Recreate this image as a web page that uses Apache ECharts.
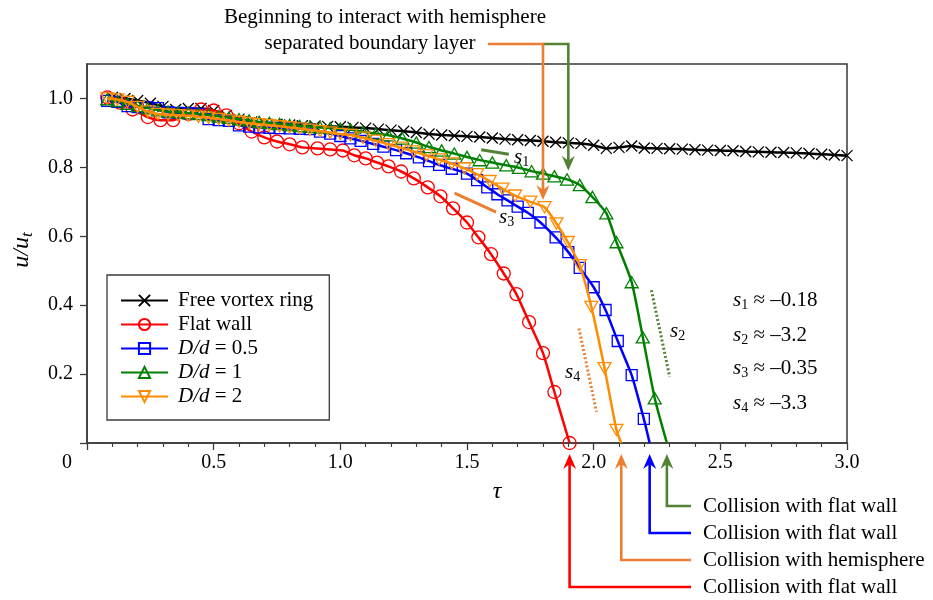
<!DOCTYPE html>
<html>
<head>
<meta charset="utf-8">
<script src="https://cdn.jsdelivr.net/npm/echarts@6/dist/echarts.min.js"></script>
<style>
  html, body { margin: 0; padding: 0; background: #fff; }
  #chart { width: 933px; height: 600px; }
</style>
</head>
<body>
<div id="chart"></div>
<script>
// Normalised translation velocity u/u_t of the vortex ring against time tau.

const FONT = '"Liberation Serif", "Times New Roman", serif';

// Free vortex ring
const freeTau = [0.10,0.15,0.20,0.25,0.30,0.35,0.40,0.45,0.50,0.55,0.60,0.65,0.70,0.75,0.80,0.85,0.90,0.95,1.00,1.05,
                 1.10,1.15,1.20,1.25,1.30,1.35,1.40,1.45,1.50,1.55,1.60,1.65,1.70,1.75,1.80,1.85,1.90,1.95,2.00,2.05,
                 2.10,2.15,2.20,2.25,2.30,2.35,2.40,2.45,2.50,2.55,2.60,2.65,2.70,2.75,2.80,2.85,2.90,2.95,3.00];
const freeU   = [1.003,1.000,0.994,0.986,0.977,0.968,0.971,0.971,0.965,0.951,0.940,0.932,0.928,0.925,0.923,0.921,0.920,0.919,0.918,0.916,
                 0.914,0.911,0.908,0.905,0.901,0.897,0.894,0.892,0.890,0.888,0.885,0.882,0.880,0.878,0.876,0.873,0.871,0.869,0.864,0.855,
                 0.858,0.862,0.856,0.855,0.854,0.853,0.851,0.850,0.849,0.848,0.846,0.845,0.844,0.843,0.842,0.840,0.838,0.836,0.834];

// Flat wall
const flatTau = [0.08,0.13,0.18,0.24,0.29,0.34,0.40,0.45,0.50,0.55,0.60,0.65,0.70,0.75,0.80,0.85,0.91,0.96,1.01,1.055,
                 1.10,1.145,1.19,1.24,1.29,1.345,1.395,1.445,1.50,1.545,1.595,1.645,1.695,1.745,1.80,1.845,1.905];
const flatU   = [1.003,0.988,0.968,0.946,0.937,0.937,0.955,0.968,0.965,0.951,0.928,0.904,0.887,0.875,0.867,0.858,0.855,0.852,0.849,0.835,
                 0.826,0.814,0.803,0.788,0.768,0.742,0.716,0.681,0.640,0.597,0.548,0.492,0.432,0.351,0.261,0.148,0.0];

// Hemisphere D/d = 0.5
const halfTau = [0.08,0.12,0.16,0.20,0.24,0.28,0.32,0.36,0.40,0.44,0.48,0.52,0.56,0.60,0.64,0.68,0.72,0.76,0.80,0.84,0.88,0.92,0.96,1.00,
                 1.04,1.08,1.13,1.17,1.22,1.26,1.31,1.35,1.39,1.44,1.50,1.54,1.58,1.62,1.66,1.70,1.74,1.79,1.85,1.90,1.945,
                 2.00,2.047,2.095,2.15,2.198,2.221];
const halfU   = [0.993,0.990,0.978,0.975,0.974,0.972,0.960,0.958,0.957,0.955,0.940,0.937,0.935,0.922,0.918,0.916,0.915,0.914,0.913,0.912,0.911,0.904,0.898,0.891,
                 0.884,0.877,0.868,0.860,0.850,0.841,0.829,0.818,0.807,0.796,0.782,0.763,0.742,0.722,0.704,0.686,0.668,0.640,0.597,0.554,0.508,
                 0.452,0.386,0.296,0.197,0.070,0.0];

// Hemisphere D/d = 1
const oneTau = [0.08,0.12,0.16,0.20,0.24,0.28,0.32,0.36,0.40,0.44,0.48,0.52,0.56,0.60,0.64,0.68,0.72,0.76,0.80,0.84,0.88,0.92,0.96,1.00,
                1.04,1.09,1.14,1.19,1.245,1.30,1.35,1.40,1.45,1.50,1.55,1.60,1.655,1.705,1.755,1.80,1.845,1.895,1.945,1.995,
                2.05,2.09,2.15,2.194,2.241,2.289];
const oneU   = [0.998,0.993,0.985,0.978,0.972,0.966,0.962,0.960,0.958,0.955,0.952,0.948,0.944,0.940,0.936,0.932,0.929,0.926,0.923,0.920,0.918,0.916,0.914,0.912,
                0.910,0.903,0.898,0.893,0.884,0.872,0.859,0.849,0.840,0.830,0.821,0.814,0.806,0.799,0.789,0.782,0.774,0.765,0.749,0.714,
                0.667,0.583,0.467,0.307,0.130,0.0];

// Hemisphere D/d = 2
const twoTau = [0.08,0.12,0.16,0.20,0.24,0.28,0.32,0.36,0.40,0.44,0.48,0.52,0.56,0.60,0.64,0.68,0.72,0.76,0.80,0.84,0.88,0.92,0.96,1.00,
                1.04,1.09,1.14,1.19,1.24,1.29,1.34,1.39,1.44,1.49,1.54,1.59,1.64,1.69,1.75,1.806,1.853,1.898,1.945,1.991,
                2.043,2.090,2.109];
const twoU   = [1.000,0.997,0.990,0.975,0.962,0.955,0.953,0.951,0.950,0.947,0.944,0.940,0.936,0.932,0.928,0.925,0.922,0.919,0.916,0.913,0.909,0.905,0.901,0.897,
                0.894,0.886,0.877,0.867,0.857,0.846,0.835,0.823,0.811,0.797,0.780,0.760,0.738,0.718,0.700,0.684,0.637,0.583,0.516,0.395,
                0.217,0.038,0.0];

const seriesNames = ['Free vortex ring', 'Flat wall', 'D/d = 0.5', 'D/d = 1', 'D/d = 2'];
const legendLabels = {
  'Free vortex ring': 'Free vortex ring',
  'Flat wall': 'Flat wall',
  'D/d = 0.5': '{it|D/d} = 0.5',
  'D/d = 1': '{it|D/d} = 1',
  'D/d = 2': '{it|D/d} = 2'
};
const xTickLabels = ['0.5', '1.0', '1.5', '2.0', '2.5', '3.0'];
const yTickLabels = ['0.2', '0.4', '0.6', '0.8', '1.0'];
const slopeTexts = [['1', '\u20130.18'], ['2', '\u20133.2'], ['3', '\u20130.35'], ['4', '\u20133.3']];

const SYM_X = 'path://M0,0L10,10M0,10L10,0';
const SYM_UP = 'path://M5,0L10,8.66L0,8.66Z';
const SYM_DOWN = 'path://M0,0L10,0L5,8.66Z';

function toData(tau, u, bareEnd) {
  return tau.map((t, i) => {
    const item = { value: [t, u[i]] };
    if (bareEnd && i === tau.length - 1) item.symbol = 'none';
    return item;
  });
}

function curve(name, color, symbol, size, data, z) {
  return {
    name, type: 'line', data, color,
    symbol, symbolSize: size, symbolKeepAspect: true,
    showAllSymbol: true, smooth: 0.2, clip: false, z,
    lineStyle: { color, width: 2.5 },
    itemStyle: { color: 'rgba(0,0,0,0)', borderColor: color, borderWidth: 1.3 },
    emphasis: { disabled: true },
    silent: true
  };
}

const chart = echarts.init(document.getElementById('chart'), null, { renderer: 'canvas' });

const RICH = {
  it:    { fontFamily: FONT, fontSize: 21, fontStyle: 'italic', lineHeight: 24, color: '#000' },
  sub:   { fontFamily: FONT, fontSize: 14, lineHeight: 16, padding: [10, 0, 0, 0], color: '#000' },
  big:   { fontFamily: FONT, fontSize: 24, fontStyle: 'italic', lineHeight: 26, color: '#000' },
  subIt: { fontFamily: FONT, fontSize: 17, fontStyle: 'italic', lineHeight: 18, padding: [11, 0, 0, 0], color: '#000' }
};

chart.setOption({
  animation: false,
  backgroundColor: '#fff',
  grid: { left: 87, right: 86, top: 64, bottom: 157, show: true, borderColor: '#3a3a3a', borderWidth: 1.5, backgroundColor: 'transparent' },
  xAxis: {
    type: 'value', min: 0, max: 3, interval: 0.5,
    axisLine: { onZero: false, lineStyle: { color: '#3a3a3a', width: 1.5 } },
    axisTick: { length: 7, lineStyle: { color: '#3a3a3a', width: 1.3 } },
    minorTick: { show: true, splitNumber: 5, length: 4, lineStyle: { color: '#3a3a3a', width: 1.1 } },
    splitLine: { show: false },
    minorSplitLine: { show: false },
    axisLabel: {
      margin: 10, fontFamily: FONT, fontSize: 20, color: '#000',
      formatter: v => { const i = Math.round(v / 0.5) - 1; return i >= 0 ? xTickLabels[i] : ''; }
    }
  },
  yAxis: {
    type: 'value', min: 0, max: 1.1, interval: 0.2,
    axisLine: { onZero: false, lineStyle: { color: '#3a3a3a', width: 1.5 } },
    axisTick: { length: 7, customValues: [0, 0.2, 0.4, 0.6, 0.8, 1.0], lineStyle: { color: '#3a3a3a', width: 1.3 } },
    splitLine: { show: false },
    axisLabel: {
      margin: 14, fontFamily: FONT, fontSize: 20, color: '#000',
      customValues: [0.2, 0.4, 0.6, 0.8, 1.0],
      formatter: v => yTickLabels[Math.round(v / 0.2) - 1] || ''
    }
  },
  legend: {
    orient: 'vertical', left: 107, top: 275,
    padding: [15, 16, 13, 13],
    itemWidth: 47, itemHeight: 14, itemGap: 3,
    borderColor: '#3a3a3a', borderWidth: 1.3, borderRadius: 0,
    backgroundColor: '#fff',
    selectedMode: false,
    data: seriesNames,
    formatter: name => legendLabels[name],
    textStyle: {
      fontFamily: FONT, fontSize: 21, color: '#000', lineHeight: 21, padding: [0, 0, 0, 5],
      rich: { it: { fontFamily: FONT, fontSize: 21, fontStyle: 'italic', lineHeight: 21, color: '#000' } }
    }
  },
  series: [
    curve(seriesNames[0], '#000000', SYM_X, 11, toData(freeTau, freeU, false), 2),
    curve(seriesNames[1], '#ff0000', 'circle', 13, toData(flatTau, flatU, false), 3),
    curve(seriesNames[2], '#0000ff', 'rect', 11, toData(halfTau, halfU, true), 4),
    curve(seriesNames[3], '#008000', SYM_UP, 13, toData(oneTau, oneU, true), 5),
    curve(seriesNames[4], '#ff8c00', SYM_DOWN, 13, toData(twoTau, twoU, true), 6)
  ]
});

// ---- annotations: arrows, slope guides and captions ----
const P = (t, u) => chart.convertToPixel({ gridIndex: 0 }, [t, u]);
const ORANGE = '#ed7d31', OLIVE = '#548235', BLUE = '#0000ff', RED = '#ff0000';
const g = [];

function arrowHead(x, y, dir, color) {
  // dir = 1 points down, -1 points up
  return {
    type: 'polygon', z: 100, silent: true,
    shape: { points: [[x, y], [x - 6.5, y - dir * 15], [x, y - dir * 10], [x + 6.5, y - dir * 15]] },
    style: { fill: color }
  };
}
function poly(points, color, extra) {
  return Object.assign({ type: 'polyline', z: 99, silent: true, shape: { points },
    style: { stroke: color, lineWidth: 2.6, fill: null } }, extra || {});
}
function text(str, x, y, opts) {
  return {
    type: 'text', z: 101, silent: true, x, y, rotation: (opts && opts.rotation) || 0,
    style: Object.assign({ text: str, font: '21px ' + FONT, fill: '#000', rich: RICH,
      align: 'left', verticalAlign: 'middle', lineHeight: 24 }, opts && opts.style)
  };
}

// top: interaction with the separated boundary layer
const barY = 44;
const oTip = P(1.80, 0.705);
const gTip = P(1.90, 0.79);
g.push(poly([[oTip[0], barY], [gTip[0], barY], [gTip[0], gTip[1] - 9]], OLIVE));
g.push(arrowHead(gTip[0], gTip[1], 1, OLIVE));
g.push(poly([[488, barY], [oTip[0], barY], [oTip[0], oTip[1] - 9]], ORANGE));
g.push(arrowHead(oTip[0], oTip[1], 1, ORANGE));
g.push(text('Beginning to interact with hemisphere', 385, 17, { style: { align: 'center' } }));
g.push(text('separated boundary layer', 370, 43, { style: { align: 'center' } }));

// bottom: collision instants at the end of each curve
const axisY = P(0, 0)[1];
const collisions = [
  [oneTau[oneTau.length - 1], OLIVE, 'Collision with flat wall', 506],
  [halfTau[halfTau.length - 1], BLUE, 'Collision with flat wall', 533],
  [twoTau[twoTau.length - 1], ORANGE, 'Collision with hemisphere', 560],
  [flatTau[flatTau.length - 1], RED, 'Collision with flat wall', 587]
];
collisions.forEach(([t, color, label, y]) => {
  const x = P(t, 0)[0];
  const tipY = axisY + 11;
  g.push(poly([[x, tipY + 9], [x, y], [691, y]], color));
  g.push(arrowHead(x, tipY, -1, color));
  g.push(text(label, 703, y));
});

// slope guides
const s1 = [P(1.556, 0.851), P(1.665, 0.838)];
const s3 = [P(1.451, 0.7255), P(1.615, 0.6704)];
const s2 = [P(2.228, 0.4435), P(2.300, 0.192)];
const s4 = [P(1.942, 0.3325), P(2.011, 0.0907)];
g.push(poly(s1, OLIVE, { style: { stroke: OLIVE, lineWidth: 3, fill: null } }));
g.push(poly(s3, ORANGE, { style: { stroke: ORANGE, lineWidth: 3, fill: null } }));
g.push(poly(s2, OLIVE, { style: { stroke: OLIVE, lineWidth: 3, fill: null, lineDash: [2, 2.2] } }));
g.push(poly(s4, ORANGE, { style: { stroke: ORANGE, lineWidth: 3, fill: null, lineDash: [2, 2.2] } }));

const sLabel = n => '{it|s}{sub|' + n + '}';
g.push(text(sLabel(1), 514, 157));
g.push(text(sLabel(3), 499, 217));
g.push(text(sLabel(2), 670, 331));
g.push(text(sLabel(4), 565, 372));

[300, 335, 368, 403].forEach((y, i) => {
  g.push(text(sLabel(slopeTexts[i][0]) + ' \u2248 ' + slopeTexts[i][1], 733, y));
});

// axis titles and shared origin label
g.push(text('0', 67, 463, { style: { align: 'center', font: '20px ' + FONT } }));
g.push(text('{big|\u03c4}', 497, 492, { style: { align: 'center' } }));
g.push(text('{big|u/u}{subIt|t}', 22, 250, { rotation: Math.PI / 2, style: { align: 'center' } }));

chart.setOption({ graphic: g });
</script>
</body>
</html>
